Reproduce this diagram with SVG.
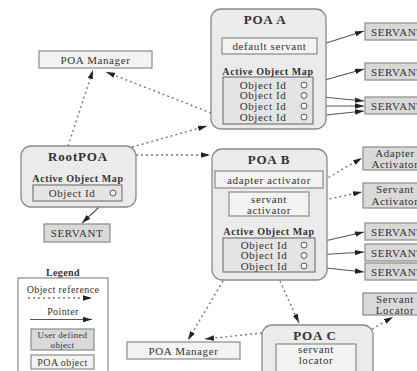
<svg xmlns="http://www.w3.org/2000/svg" width="417" height="371" viewBox="0 0 417 371">
  <style>
    text { font-family: "Liberation Serif", "Times New Roman", serif; fill: #333; font-size: 11px; letter-spacing: 0.6px; text-anchor: middle; }
    .title { font-weight: bold; font-size: 13px; letter-spacing: 0.8px; }
    .map { font-weight: bold; font-size: 10px; letter-spacing: 0.6px; }
    .small { font-size: 10px; letter-spacing: 0.4px; }
    .tiny { font-size: 9px; letter-spacing: 0.3px; }
    .left { text-anchor: start; }
    .poa { fill: #ebebeb; stroke: #8a8a8a; stroke-width: 1.3; }
    .pobj { fill: #f3f3f3; stroke: #8a8a8a; stroke-width: 1.2; }
    .omap { fill: #e4e4e4; stroke: #7a7a7a; stroke-width: 1.2; }
    .user { fill: #d9d9d9; stroke: #8a8a8a; stroke-width: 1.2; }
    .hole { fill: #fafafa; stroke: #555; stroke-width: 1; }
    .ref { fill: none; stroke: #777; stroke-width: 1.4; stroke-dasharray: 2 3; marker-end: url(#head); }
    .ptr { fill: none; stroke: #555; stroke-width: 1.1; marker-end: url(#head); }
  </style>
  <defs>
    <marker id="head" viewBox="0 0 10 6" refX="10" refY="3" markerWidth="9" markerHeight="5.5" markerUnits="userSpaceOnUse" orient="auto">
      <path d="M0,0 L10,3 L0,6 Z" fill="#222"/>
    </marker>
  </defs>

  <rect width="417" height="371" fill="#ffffff"/>

  <!-- object references and pointers -->
  <g id="connectors">
    <path class="ref" d="M68,146 L93,70"/>
    <path class="ref" d="M211,113 L106,72"/>
    <path class="ref" d="M132,147 L207,126"/>
    <path class="ref" d="M136,155 L210,155"/>
    <path class="ref" d="M324,180 L362,158"/>
    <path class="ref" d="M310,203 L362,192"/>
    <path class="ref" d="M223,281 L188,340"/>
    <path class="ref" d="M280,281 L299,323"/>
    <path class="ref" d="M262,333 L205,339"/>
    <path class="ref" d="M346,344 L393,317"/>

    <path class="ptr" d="M317,46 L364,31"/>
    <path class="ptr" d="M307,85 L364,69"/>
    <path class="ptr" d="M307,95.5 L364,101"/>
    <path class="ptr" d="M307,106 L364,106"/>
    <path class="ptr" d="M307,117 L364,111"/>
    <path class="ptr" d="M111,196 L82,223"/>
    <path class="ptr" d="M307,245 L364,232"/>
    <path class="ptr" d="M307,255.5 L364,252"/>
    <path class="ptr" d="M307,266 L364,272"/>
  </g>

  <g id="poa-manager-top">
    <rect class="pobj" x="39" y="51" width="113" height="17"/>
    <text x="95.5" y="63.5">POA Manager</text>
  </g>

  <g id="poa-a">
    <rect class="poa" x="211" y="9" width="115" height="120" rx="10"/>
    <text class="title" x="265" y="24">POA A</text>
    <rect class="pobj" x="222" y="38" width="95" height="16"/>
    <text x="269.5" y="50">default servant</text>
    <text class="map" x="268" y="74.5">Active Object Map</text>
    <rect class="omap" x="223" y="77" width="90" height="47"/>
    <text x="263" y="88.5">Object Id</text>
    <text x="263" y="99">Object Id</text>
    <text x="263" y="109.5">Object Id</text>
    <text x="263" y="120.5">Object Id</text>
    <circle class="hole" cx="304" cy="85" r="3"/>
    <circle class="hole" cx="304" cy="95.5" r="3"/>
    <circle class="hole" cx="304" cy="106" r="3"/>
    <circle class="hole" cx="304" cy="117" r="3"/>
  </g>

  <g id="servant-a1">
    <rect class="user" x="365" y="23" width="62" height="17"/>
    <text class="left" x="371" y="35.5">SERVANT</text>
  </g>
  <g id="servant-a2">
    <rect class="user" x="365" y="63" width="62" height="17"/>
    <text class="left" x="371" y="75.5">SERVANT</text>
  </g>
  <g id="servant-a3">
    <rect class="user" x="365" y="97" width="62" height="17"/>
    <text class="left" x="371" y="109.5">SERVANT</text>
  </g>

  <g id="root-poa">
    <rect class="poa" x="21" y="146" width="115" height="61" rx="10"/>
    <text class="title" x="78" y="160.5">RootPOA</text>
    <text class="map" x="78" y="181.5">Active Object Map</text>
    <rect class="omap" x="33" y="185" width="89" height="16"/>
    <text x="72" y="197">Object Id</text>
    <circle class="hole" cx="113" cy="193" r="3"/>
  </g>

  <g id="servant-root">
    <rect class="user" x="44" y="224" width="66" height="18"/>
    <text x="77" y="236.5">SERVANT</text>
  </g>

  <g id="poa-b">
    <rect class="poa" x="212" y="149" width="115" height="131" rx="10"/>
    <text class="title" x="269" y="164">POA B</text>
    <rect class="pobj" x="215" y="171" width="108" height="17"/>
    <text x="269" y="183.5">adapter activator</text>
    <rect class="pobj" x="229" y="192" width="80" height="24"/>
    <text x="269" y="202.5">servant</text>
    <text x="269" y="213.5">activator</text>
    <text class="map" x="269" y="234.5">Active Object Map</text>
    <rect class="omap" x="223" y="238" width="92" height="34"/>
    <text x="264" y="248.5">Object Id</text>
    <text x="264" y="259">Object Id</text>
    <text x="264" y="269.5">Object Id</text>
    <circle class="hole" cx="304" cy="245" r="3"/>
    <circle class="hole" cx="304" cy="255.5" r="3"/>
    <circle class="hole" cx="304" cy="266" r="3"/>
  </g>

  <g id="adapter-activator">
    <rect class="user" x="363" y="147" width="64" height="23"/>
    <text x="395" y="156.5">Adapter</text>
    <text x="395" y="167.5">Activator</text>
  </g>
  <g id="servant-activator">
    <rect class="user" x="363" y="183" width="64" height="25"/>
    <text x="395" y="193">Servant</text>
    <text x="395" y="204.5">Activator</text>
  </g>
  <g id="servant-b1">
    <rect class="user" x="365" y="223" width="62" height="17"/>
    <text class="left" x="371" y="235.5">SERVANT</text>
  </g>
  <g id="servant-b2">
    <rect class="user" x="365" y="244" width="62" height="17"/>
    <text class="left" x="371" y="256.5">SERVANT</text>
  </g>
  <g id="servant-b3">
    <rect class="user" x="365" y="263" width="62" height="17"/>
    <text class="left" x="371" y="275.5">SERVANT</text>
  </g>

  <g id="servant-locator">
    <rect class="user" x="363" y="293" width="64" height="22"/>
    <text x="395" y="303">Servant</text>
    <text x="395" y="314">Locator</text>
  </g>

  <g id="poa-manager-bottom">
    <rect class="pobj" x="127" y="342" width="113" height="17"/>
    <text x="183.5" y="354.5">POA Manager</text>
  </g>

  <g id="poa-c">
    <rect class="poa" x="262" y="325" width="111" height="60" rx="10"/>
    <text class="title" x="315" y="339.5">POA C</text>
    <rect class="pobj" x="276" y="344" width="80" height="32"/>
    <text x="316" y="353">servant</text>
    <text x="316" y="364">locator</text>
  </g>

  <g id="legend">
    <text class="small" x="63" y="275.5" style="font-weight:bold">Legend</text>
    <rect x="18" y="278" width="90" height="100" fill="#ffffff" stroke="#8a8a8a" stroke-width="1.2"/>
    <text class="small" x="63" y="293">Object reference</text>
    <path class="ref" d="M28,298 L92,298"/>
    <text class="small" x="63" y="314.5">Pointer</text>
    <path class="ptr" d="M30,319.5 L92,319.5"/>
    <rect class="user" x="31" y="329" width="63" height="21"/>
    <text class="tiny" x="62.5" y="338">User defined</text>
    <text class="tiny" x="62.5" y="347.5">object</text>
    <rect class="pobj" x="31" y="355" width="63" height="14"/>
    <text class="small" x="62.5" y="365.5">POA object</text>
  </g>
</svg>
